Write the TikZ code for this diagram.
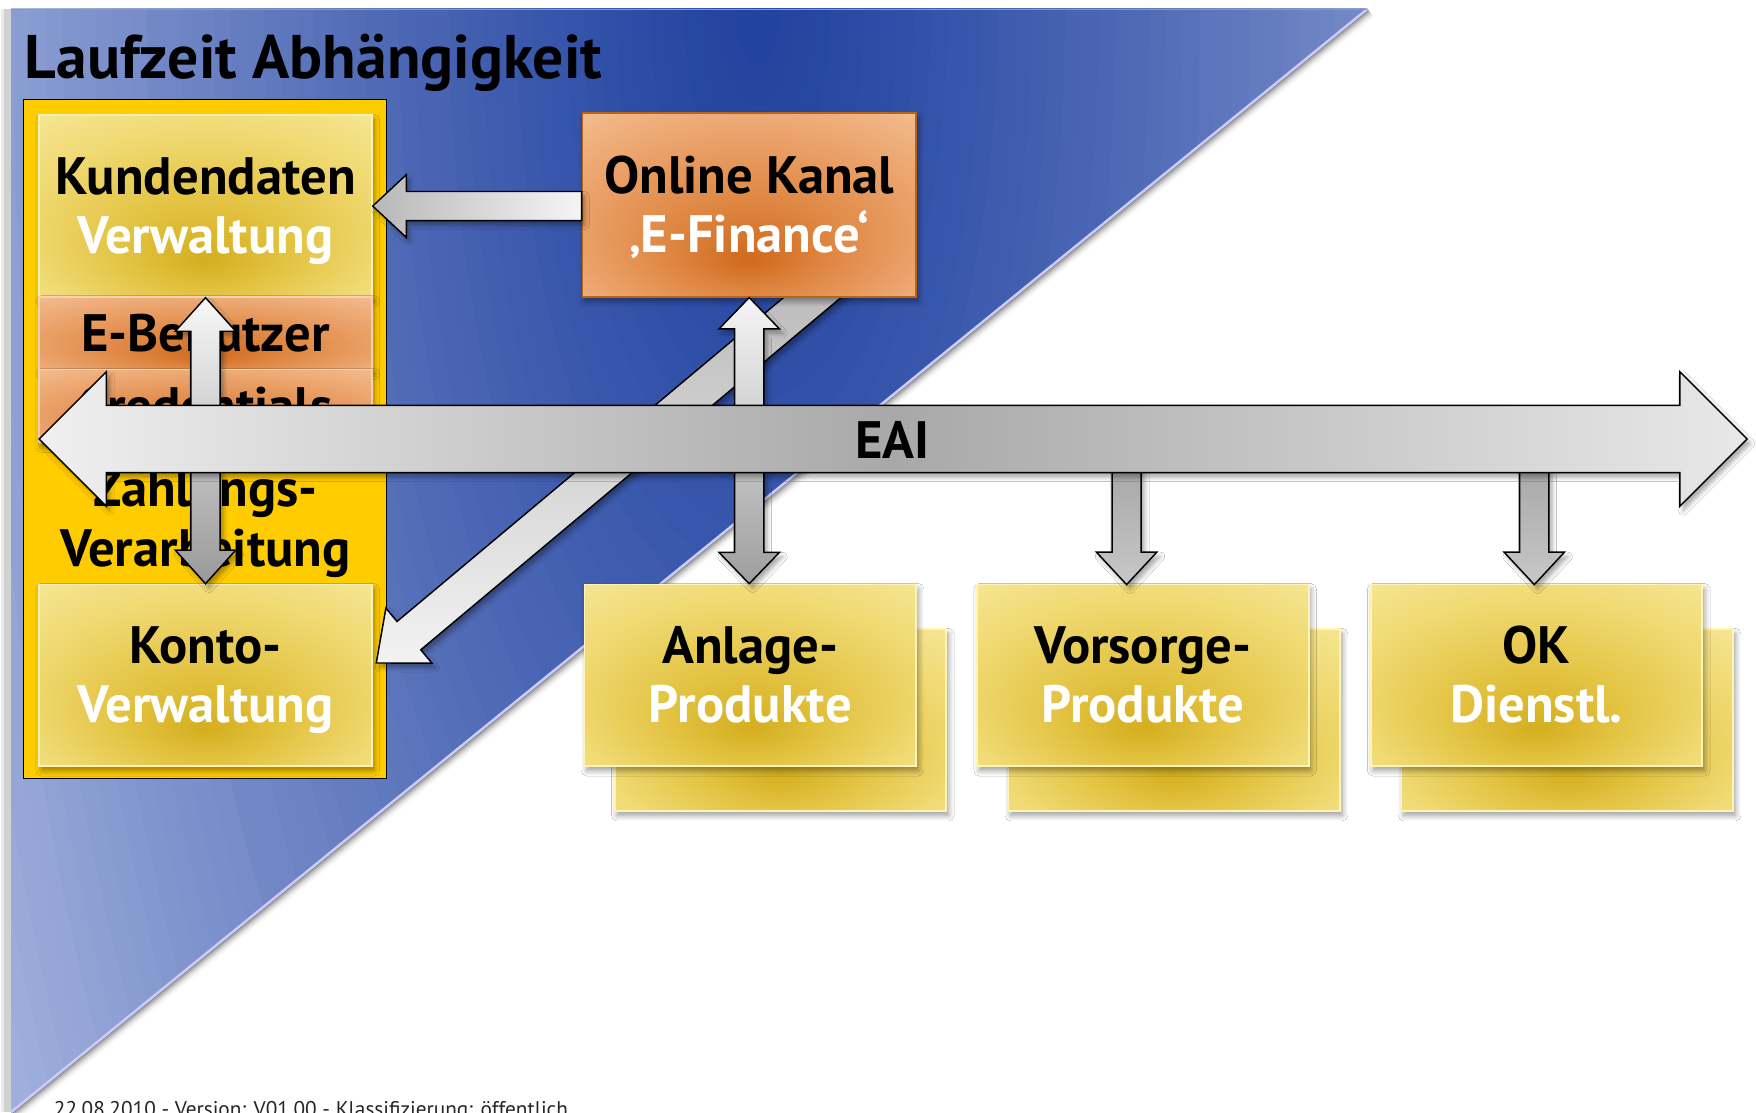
\documentclass[tikz,border=0pt]{standalone}
\usepackage{fontspec}
\setmainfont{PT Sans}
\usetikzlibrary{calc,shadows.blur}
\definecolor{bD}{HTML}{2243A0}
\definecolor{bC5}{HTML}{A6B5DF}
\definecolor{bL1}{HTML}{8396CE}
\definecolor{frameY}{HTML}{FFCC00}
\definecolor{yIn}{HTML}{D4AE1E}
\definecolor{yMid}{HTML}{E2C240}
\definecolor{yOut}{HTML}{F0DA74}
\definecolor{yEdge}{HTML}{FAEDA8}
\definecolor{yBorder}{HTML}{FFF4B8}
\definecolor{oIn}{HTML}{D0691C}
\definecolor{oMid}{HTML}{DE8641}
\definecolor{oOut}{HTML}{ECA670}
\definecolor{oEdge}{HTML}{F7CBA4}
\definecolor{oBorder}{HTML}{B8651A}
\definecolor{oLight}{HTML}{F8D2B0}
\pgfdeclareradialshading{yboxsh}{\pgfpoint{0bp}{-15bp}}{color(0bp)=(yIn); color(12bp)=(yMid); color(28bp)=(yOut); color(45bp)=(yEdge); color(50bp)=(yEdge)}
\pgfdeclareradialshading{oboxsh}{\pgfpoint{0bp}{-15bp}}{color(0bp)=(oIn); color(12bp)=(oMid); color(28bp)=(oOut); color(45bp)=(oEdge); color(50bp)=(oEdge)}
\newcommand\boxfont{\fontsize{47}{53}\selectfont\bfseries}
\newcommand\lnA{\rule[-10pt]{0pt}{52pt}}
% single fat arrow: style, from, to, half shaft, half head, head length
\newcommand\fatsingle[6]{%
  \coordinate (fa-h) at ($(#3)!#6!(#2)$);
  \draw[#1] ($(#2)!#4!90:(#3)$) -- ($(fa-h)!#4!90:(#3)$) -- ($(fa-h)!#5!90:(#3)$) -- (#3)
    -- ($(fa-h)!#5!-90:(#3)$) -- ($(fa-h)!#4!-90:(#3)$) -- ($(#2)!#4!-90:(#3)$) -- cycle;}
% double fat arrow
\newcommand\fatdouble[6]{%
  \coordinate (fa-a) at ($(#2)!#6!(#3)$);
  \coordinate (fa-b) at ($(#3)!#6!(#2)$);
  \draw[#1] (#2) -- ($(fa-a)!#5!90:(#3)$) -- ($(fa-a)!#4!90:(#3)$) -- ($(fa-b)!#4!90:(#3)$)
    -- ($(fa-b)!#5!90:(#3)$) -- (#3) -- ($(fa-b)!#5!-90:(#3)$) -- ($(fa-b)!#4!-90:(#3)$)
    -- ($(fa-a)!#4!-90:(#3)$) -- ($(fa-a)!#5!-90:(#3)$) -- cycle;}
\tikzset{
  boxbase/.style={rectangle, inner sep=0pt, minimum width=297pt, minimum height=162pt,
    align=center, font=\boxfont, text=black},
  softshadow/.style={blur shadow={shadow xshift=2pt, shadow yshift=-4pt, shadow blur steps=6, shadow blur radius=5pt, shadow opacity=40}},
  ybox/.style={boxbase, shade, shading=yboxsh, draw=yBorder, line width=1.6pt, softshadow},
  obox/.style={boxbase, shade, shading=oboxsh, draw=oLight, line width=1.6pt, softshadow},
  fatline/.style={draw=black, line width=1.3pt, line join=miter,
    blur shadow={shadow xshift=3pt, shadow yshift=-4pt, shadow blur steps=5, shadow blur radius=4pt, shadow opacity=35}},
}
\begin{document}
\begin{tikzpicture}[x=1pt,y=-1pt]
\useasboundingbox (0,0) rectangle (1568,993);
\clip (0,0) rectangle (1568,993);
\fill[white] (0,0) rectangle (1568,993);
% left page edge shadow
\fill[black!18] (4,8) rectangle (10,993);
\fill[black!8] (1,8) rectangle (4,993);
% hypotenuse shadow
\foreach \i/\o in {1/0.22,2/0.16,3/0.11,4/0.07,5/0.04,6/0.02}{
  \fill[black, opacity=\o] (1221,8) -- ($(1221,8)+(1.6*\i*0.631,1.6*\i*0.776)$) -- ($(10,993)+(1.6*\i*0.631,1.6*\i*0.776)$) -- (10,993) -- cycle;
}
% blue triangle (stepped elliptic gradient)
\begin{scope}
  \clip (10,8) -- (1221,8) -- (10,993) -- cycle;
  \fill[bC5] (10,8) rectangle (1221,993);
  \foreach \r in {800,785,...,5}{
    \pgfmathtruncatemacro\p{100*((\r/800)^1.25)}
    \fill[bC5!\p!bD] (676,8) ellipse [x radius=\r, y radius=2.5*\r];
  }
\end{scope}
\draw[color=blue!20!white, line width=2.2pt] (1221,8) -- (10,993);
\draw[color=bL1, line width=1pt] (10,8.5) -- (1221,8.5);
% title
\node[anchor=base west, font=\fontsize{55}{62}\selectfont\bfseries, inner sep=0pt] (title) at (22,70) {Laufzeit Abhängigkeit};
% frame
\node[rectangle, fill=frameY, draw=black, line width=1.4pt, minimum width=324pt, minimum height=606pt, inner sep=0pt] (frame) at (183,392) {};
\node[ybox] (kunden) at (183.5,184) {\lnA Kundendaten\\\lnA\textcolor{white}{Verwaltung}};
\node[obox, minimum height=65pt] (ebenutzer) at (183.5,297.5) {E-Benutzer};
\node[obox, minimum height=65pt] (cred) at (183.5,362.5) {Credentials};
\node[boxbase, minimum width=0pt, minimum height=0pt] (zahlung) at (183.5,463) {\lnA Zahlungs-\\\lnA Verarbeitung};
\node[ybox] (konto) at (183.5,603) {\lnA Konto-\\\lnA\textcolor{white}{Verwaltung}};
% product boxes
\node[ybox, minimum width=296pt] (anlB) at (697,643) {};
\node[ybox, minimum width=296pt] (anl) at (670,603) {\lnA Anlage-\\\lnA\textcolor{white}{Produkte}};
\node[ybox, minimum width=296pt] (vorsB) at (1048.5,643) {};
\node[ybox, minimum width=296pt] (vors) at (1020.5,603) {\lnA Vorsorge-\\\lnA\textcolor{white}{Produkte}};
\node[ybox, minimum width=296pt] (okdB) at (1399.5,643) {};
\node[ybox, minimum width=296pt] (okd) at (1372,603) {\lnA OK\\\lnA\textcolor{white}{Dienstl.}};
% diagonal arrow (behind online box)
\coordinate (dStart) at (750,245);
\coordinate (dTip) at (336,592);
\fatsingle{fatline, top color=black!28, bottom color=black!5}{dStart}{dTip}{16.5pt}{32pt}{38pt}
% online box
\node[obox, minimum width=298pt, minimum height=164pt, draw=oBorder, line width=1.4pt] (online) at (669,183) {\lnA Online Kanal\\\lnA\textcolor{white}{‚E-Finance‘}};
% online <-> anlage
\coordinate (oaTop) at (online.south);
\coordinate (oaBot) at (online.south |- anl.north);
\fatdouble{fatline, top color=black!4, bottom color=black!38}{oaTop}{oaBot}{13pt}{27pt}{28pt}
% online -> kunden
\coordinate (okStart) at (online.west |- kunden.east);
\fatsingle{fatline, left color=black!28, right color=black!4}{okStart}{kunden.east}{13pt}{28pt}{30pt}
% kunden <-> konto
\fatdouble{fatline, top color=black!3, bottom color=black!40}{kunden.south}{konto.north}{13pt}{27pt}{30pt}
% down arrows from EAI
\coordinate (vStart) at (1006,400);
\coordinate (vTip) at (1006,522);
\coordinate (oStart) at (1370,400);
\coordinate (oTip) at (1370,522);
\fatsingle{fatline, top color=black!36, bottom color=black!22}{vStart}{vTip}{13pt}{27pt}{29pt}
\fatsingle{fatline, top color=black!36, bottom color=black!22}{oStart}{oTip}{13pt}{27pt}{29pt}
% EAI arrow
\coordinate (eaiL) at (35,392);
\coordinate (eaiR) at (1560,392);
\fatdouble{fatline, left color=black!6, right color=black!9, middle color=black!34}{eaiL}{eaiR}{30pt}{60pt}{60pt}
\node[font=\fontsize{47}{53}\selectfont\bfseries, inner sep=0pt] (eai) at (797,393) {EAI};
% footer
\node[anchor=base west, font=\fontsize{19}{22}\selectfont, text=black!85, inner sep=0pt] (foot) at (48,997) {22.08.2010 - Version: V01.00 - Klassifizierung: öffentlich};
\end{tikzpicture}
\end{document}
